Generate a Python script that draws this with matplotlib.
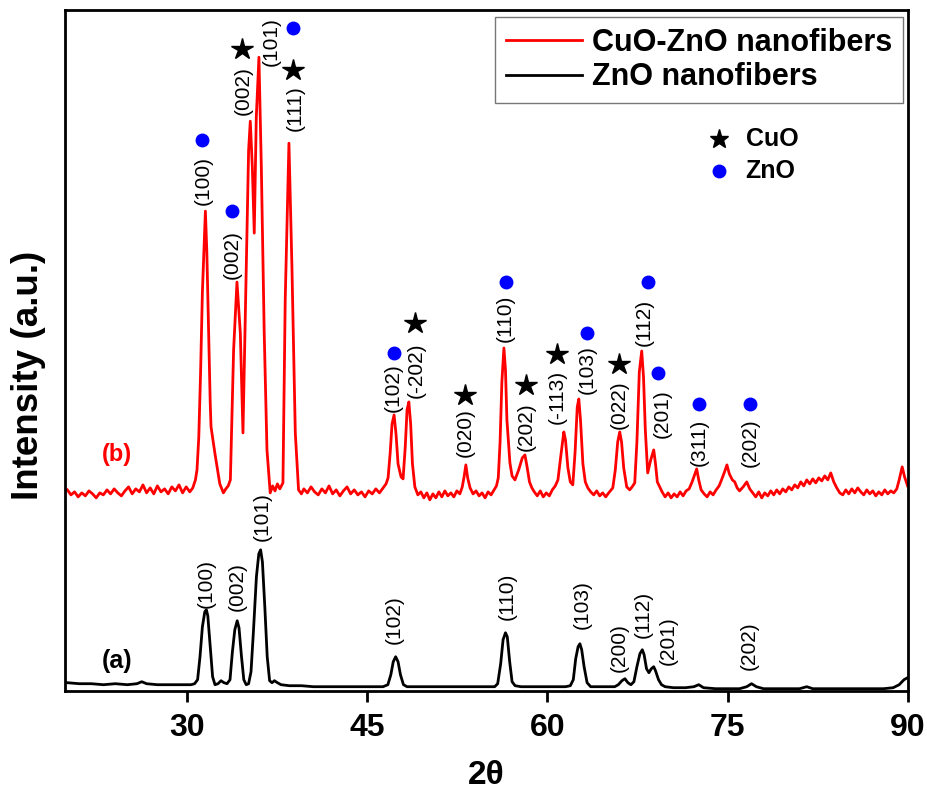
import numpy as np
import matplotlib.pyplot as plt

# CuO-ZnO nanofibers (b), (2theta, intensity a.u.)
red_pts = [
    (20.0, 202), (20.3, 197), (20.6, 200), (20.9, 195), (21.2, 199), (21.5, 196), (21.8, 201), (22.1, 198),
    (22.4, 194), (22.7, 199), (23.0, 197), (23.3, 202), (23.6, 198), (23.9, 203), (24.2, 199), (24.5, 196),
    (24.8, 201), (25.1, 205), (25.4, 198), (25.7, 203), (26.0, 200), (26.3, 207), (26.6, 199), (26.9, 204),
    (27.2, 198), (27.5, 206), (27.8, 200), (28.1, 203), (28.4, 198), (28.7, 205), (29.0, 201), (29.3, 207),
    (29.6, 199), (29.9, 205), (30.2, 200), (30.45, 204),
    (30.67, 212), (30.8, 222), (30.95, 255), (31.1, 320), (31.25, 400), (31.5, 481), (31.62, 440),
    (31.77, 359), (31.9, 290), (31.97, 265), (32.15, 250), (32.3, 238), (32.47, 225), (32.7, 208),
    (33.0, 199), (33.2, 203), (33.4, 206),
    (33.58, 212), (33.85, 342), (34.13, 410), (34.41, 359), (34.63, 259), (34.91, 425), (35.1, 542),
    (35.24, 571), (35.41, 525), (35.57, 459), (35.74, 575), (35.96, 635), (36.16, 525), (36.4, 359),
    (36.63, 242), (36.9, 199), (37.1, 206), (37.3, 201), (37.5, 208), (37.7, 203),
    (37.96, 209), (38.15, 392), (38.46, 549), (38.71, 425), (38.99, 259), (39.26, 202),
    (39.5, 198), (39.7, 203), (40.0, 199), (40.3, 205), (40.6, 200), (40.9, 197), (41.2, 203), (41.5, 199),
    (41.8, 206), (42.1, 198), (42.4, 202), (42.7, 196), (43.0, 201), (43.3, 205), (43.6, 198), (43.9, 202),
    (44.2, 197), (44.5, 200), (44.8, 195), (45.1, 201), (45.4, 198), (45.7, 203), (46.0, 199), (46.3, 204),
    (46.55, 208), (46.72, 214), (46.9, 240), (47.05, 268), (47.22, 277), (47.38, 258), (47.55, 228),
    (47.8, 215), (47.97, 213), (48.15, 245), (48.3, 282), (48.45, 290), (48.6, 268), (48.75, 228),
    (48.95, 205), (49.2, 197), (49.45, 200), (49.7, 194), (49.95, 199), (50.2, 192), (50.45, 198),
    (50.7, 194), (50.95, 200), (51.2, 195), (51.45, 201), (51.7, 196), (51.95, 199), (52.2, 195),
    (52.45, 201), (52.7, 198), (52.9, 205), (53.05, 215), (53.2, 227), (53.35, 214), (53.55, 204),
    (53.8, 198), (54.05, 201), (54.3, 196), (54.55, 199), (54.8, 194), (55.05, 200), (55.3, 197),
    (55.55, 202), (55.75, 206),
    (55.9, 214), (56.05, 250), (56.2, 310), (56.37, 344), (56.5, 322), (56.62, 272), (56.87, 229),
    (57.05, 216), (57.29, 212), (57.6, 222), (57.9, 234), (58.12, 237), (58.3, 225), (58.5, 210),
    (58.7, 204), (58.9, 200), (59.15, 196), (59.4, 201), (59.65, 195), (59.9, 199), (60.15, 196),
    (60.4, 202), (60.65, 206),
    (60.87, 212), (61.1, 235), (61.36, 260), (61.5, 252), (61.7, 224), (61.9, 210), (62.11, 207),
    (62.3, 240), (62.48, 285), (62.61, 293), (62.75, 272), (62.95, 228), (63.15, 210), (63.36, 204),
    (63.6, 200), (63.85, 197), (64.1, 201), (64.35, 196), (64.6, 199), (64.85, 195), (65.1, 199),
    (65.44, 204), (65.65, 222), (65.85, 250), (66.02, 260), (66.17, 250), (66.35, 224), (66.6, 205),
    (66.85, 202), (67.05, 205),
    (67.27, 209), (67.45, 250), (67.65, 320), (67.85, 341), (68.0, 315), (68.15, 262), (68.35, 219),
    (68.6, 232), (68.85, 242), (69.0, 228), (69.15, 210), (69.35, 205),
    (69.55, 200), (69.8, 195), (70.05, 199), (70.3, 194), (70.55, 198), (70.8, 195), (71.05, 200),
    (71.3, 196), (71.55, 201), (71.8, 203), (72.05, 210), (72.25, 217), (72.43, 223), (72.6, 212),
    (72.8, 202), (73.05, 198), (73.3, 195), (73.55, 200), (73.8, 197), (74.05, 202), (74.3, 206),
    (74.5, 212), (74.75, 220), (74.95, 227), (75.15, 218), (75.4, 212), (75.6, 210), (75.8, 204),
    (76.0, 201), (76.3, 205), (76.6, 210), (76.85, 203), (77.1, 199), (77.35, 195), (77.6, 200),
    (77.85, 194), (78.1, 199), (78.35, 196), (78.6, 201), (78.85, 197), (79.1, 202), (79.35, 198),
    (79.6, 203), (79.85, 200), (80.1, 205), (80.35, 202), (80.6, 207), (80.85, 204), (81.1, 210),
    (81.35, 206), (81.6, 212), (81.85, 208), (82.1, 213), (82.35, 209), (82.6, 214), (82.85, 211),
    (83.1, 216), (83.35, 212), (83.6, 219), (83.85, 210), (84.1, 204), (84.35, 199), (84.6, 197),
    (84.85, 202), (85.1, 198), (85.35, 203), (85.6, 199), (85.85, 204), (86.1, 200), (86.35, 197),
    (86.6, 202), (86.85, 198), (87.1, 201), (87.35, 196), (87.6, 200), (87.85, 197), (88.1, 202),
    (88.35, 198), (88.6, 201), (88.85, 199), (89.1, 203), (89.3, 212), (89.55, 225), (89.75, 215),
    (90.0, 206),
]

# ZnO nanofibers (a)
black_pts = [
    (20.0, 9), (21.0, 8), (22.0, 8), (23.0, 7), (24.0, 8), (25.0, 7), (25.8, 8), (26.2, 10), (26.6, 8),
    (27.5, 7), (28.5, 7), (29.5, 7), (30.3, 7), (30.6, 8), (30.85, 12), (31.05, 35), (31.25, 65),
    (31.45, 80), (31.58, 82), (31.7, 76), (31.9, 45), (32.1, 15), (32.3, 7), (32.55, 8), (32.8, 11),
    (33.05, 9), (33.3, 8), (33.55, 12), (33.75, 40), (33.95, 62), (34.15, 71), (34.3, 64), (34.5, 36),
    (34.7, 12), (34.9, 7), (35.1, 8), (35.3, 20), (35.5, 60), (35.75, 115), (35.95, 138), (36.1, 142),
    (36.25, 130), (36.45, 85), (36.65, 35), (36.85, 11), (37.05, 9), (37.25, 11), (37.5, 9), (37.8, 7),
    (38.5, 6), (39.5, 6), (40.5, 5), (41.5, 5), (42.5, 5), (43.5, 5), (44.5, 5), (45.5, 5), (46.3, 5),
    (46.7, 7), (46.95, 17), (47.15, 30), (47.35, 35), (47.55, 30), (47.75, 17), (48.0, 7), (48.3, 5),
    (49.0, 5), (50.0, 5), (51.0, 5), (52.0, 5), (53.0, 5), (54.0, 5), (55.0, 5), (55.6, 5), (55.85, 8),
    (56.1, 28), (56.3, 52), (56.5, 59), (56.65, 55), (56.85, 30), (57.05, 10), (57.3, 6), (57.8, 5),
    (58.5, 5), (59.5, 5), (60.5, 5), (61.5, 5), (61.9, 6), (62.15, 12), (62.35, 33), (62.55, 45),
    (62.7, 48), (62.85, 42), (63.05, 25), (63.3, 9), (63.6, 5), (64.2, 5), (65.0, 5), (65.6, 5),
    (65.9, 7), (66.2, 11), (66.45, 13), (66.7, 9), (66.95, 7), (67.2, 10), (67.45, 25), (67.7, 38),
    (67.9, 42), (68.05, 37), (68.25, 23), (68.45, 19), (68.65, 23), (68.85, 25), (69.0, 21), (69.25, 12),
    (69.5, 7), (69.8, 5), (70.5, 4), (71.5, 4), (72.2, 5), (72.6, 7), (73.0, 4), (74.0, 3), (75.0, 3),
    (76.0, 3), (76.6, 5), (77.0, 8), (77.4, 5), (78.0, 3), (79.0, 3), (80.0, 3), (81.0, 3), (81.6, 5),
    (82.1, 3), (83.0, 3), (84.0, 3), (85.0, 3), (86.0, 3), (87.0, 3), (88.0, 3), (88.8, 4), (89.3, 7),
    (89.7, 12), (90.0, 14),
]

# peak labels on (b): text, 2theta, y, phase
red_labels = ["(100)", "(002)", "(002)", "(101)", "(111)", "(102)", "(-202)", "(020)", "(110)",
              "(202)", "(-113)", "(103)", "(022)", "(112)", "(201)", "(311)", "(202)"]
red_lab_x = [31.33, 33.74, 34.66, 36.99, 38.99, 47.14, 49.05, 53.13, 56.46,
             58.2, 60.78, 63.28, 66.02, 68.02, 69.52, 72.68, 76.92]
red_lab_y = [512, 438, 602, 651, 584, 304, 322, 259, 374,
             265, 295, 322, 287, 370, 278, 250, 249]
mark_phase = ["ZnO", "ZnO", "CuO", "ZnO", "CuO", "ZnO", "CuO", "CuO", "ZnO",
              "CuO", "CuO", "ZnO", "CuO", "ZnO", "ZnO", "ZnO", "ZnO"]
mark_x = [31.25, 33.74, 34.58, 38.82, 38.82, 47.22, 48.97, 53.13, 56.54,
          58.2, 60.78, 63.28, 65.94, 68.35, 69.18, 72.6, 76.84]
mark_y = [552, 481, 643, 664, 622, 339, 369, 297, 410,
          307, 338, 359, 328, 410, 319, 288, 288]

# peak labels on (a)
black_labels = ["(100)", "(002)", "(101)", "(102)", "(110)", "(103)", "(200)", "(112)", "(201)", "(202)"]
black_lab_x = [31.58, 34.16, 36.24, 47.22, 56.62, 62.86, 65.94, 67.94, 70.02, 76.84]
black_lab_y = [108, 105, 175, 72, 95, 87, 44, 77, 51, 46]

red = np.array(red_pts)
black = np.array(black_pts)

plt.rcParams['font.family'] = ['Liberation Sans', 'DejaVu Sans']

fig = plt.figure(figsize=(9.28, 7.93), dpi=100)
ax = fig.add_axes([0.070, 0.129, 0.908, 0.858])

ax.plot(red[:, 0], red[:, 1], color='#ff0000', lw=2.0, label='CuO-ZnO nanofibers')
ax.plot(black[:, 0], black[:, 1], color='black', lw=2.0, label='ZnO nanofibers')

for t, x, y in zip(red_labels, red_lab_x, red_lab_y):
    ax.text(x, y, t, rotation=90, ha='center', va='center', fontsize=15)
for ph, x, y in zip(mark_phase, mark_x, mark_y):
    if ph == 'CuO':
        ax.plot(x, y, marker='*', color='black', ms=16, ls='none')
    else:
        ax.plot(x, y, marker='o', color='#0000ff', ms=9, ls='none')
for t, x, y in zip(black_labels, black_lab_x, black_lab_y):
    ax.text(x, y, t, rotation=90, ha='center', va='center', fontsize=15)

ax.text(24.1, 237, '(b)', color='#ff0000', fontsize=17, fontweight='bold', ha='center', va='center')
ax.text(24.1, 31, '(a)', color='black', fontsize=18, fontweight='bold', ha='center', va='center')

# phase key
ax.plot(74.26, 553, marker='*', color='black', ms=14, ls='none')
ax.plot(74.26, 521, marker='o', color='#0000ff', ms=9, ls='none')
ax.text(76.5, 553, 'CuO', fontsize=18, fontweight='bold', va='center')
ax.text(76.5, 521, 'ZnO', fontsize=18, fontweight='bold', va='center')

leg = ax.legend(loc='upper right', bbox_to_anchor=(0.994, 0.990), borderaxespad=0,
                fancybox=False, edgecolor='#555555', handlelength=2.5, handletextpad=0.3,
                borderpad=0.35, labelspacing=0.15, prop={'weight': 'bold', 'size': 22})
leg.get_frame().set_linewidth(1.0)

ax.set_xlim(19.8, 90)
ax.set_ylim(1, 682)
ax.set_xticks([30, 45, 60, 75, 90])
ax.set_yticks([])
ax.tick_params(axis='x', direction='out', length=8, width=2, pad=8)
for lab in ax.get_xticklabels():
    lab.set_fontsize(23)
    lab.set_fontweight('bold')
for s in ax.spines.values():
    s.set_linewidth(2)

ax.set_xlabel('2θ', fontsize=24, fontweight='bold', labelpad=12)
ax.set_ylabel('Intensity (a.u.)', fontsize=26.5, fontweight='bold')
ax.yaxis.set_label_coords(-0.022, 0.464)

fig.savefig('out.png', dpi=100)
